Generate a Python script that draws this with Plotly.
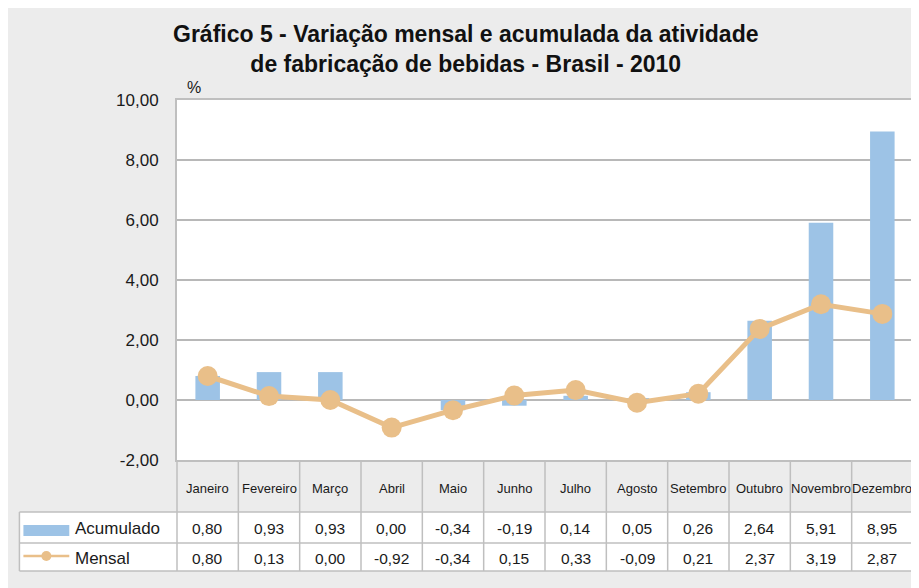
import plotly.graph_objects as go

months = ["Janeiro", "Fevereiro", "Março", "Abril", "Maio", "Junho", "Julho",
          "Agosto", "Setembro", "Outubro", "Novembro", "Dezembro"]
acumulado = [0.80, 0.93, 0.93, 0.00, -0.34, -0.19, 0.14, 0.05, 0.26, 2.64, 5.91, 8.95]
mensal = [0.80, 0.13, 0.00, -0.92, -0.34, 0.15, 0.33, -0.09, 0.21, 2.37, 3.19, 2.87]
y_ticks = [-2, 0, 2, 4, 6, 8, 10]

OFF = 8  # page body margin offset in the browser
W, H = 919 - OFF, 588 - OFF
# plot area in screen pixels: x 177..915, y 100..460
ML, MR, MT, MB = 177 - OFF, 919 - 915, 100 - OFF, 588 - 460
PW, PH = W - ML - MR, H - MT - MB

BAR_C = "#9DC3E6"
LINE_C = "#E9BF89"
BG = "#ECECEC"
BORDER = "#BFBFBF"
TXT = "#1a1a1a"
FONT = "Liberation Sans, Arial, sans-serif"
TFONT = "Liberation Sans, Arial, sans-serif"


def px_x(px):  # screen px -> paper x
    return (px - OFF - ML) / PW


def px_y(py):  # screen px -> paper y
    return (H - MB - (py - OFF)) / PH


def fmt(v):
    return f"{v:.2f}".replace(".", ",")


fig = go.Figure()
fig.add_trace(go.Bar(x=months, y=acumulado, name="Acumulado",
                     marker=dict(color=BAR_C, line=dict(width=0))))
fig.add_trace(go.Scatter(x=months, y=mensal, name="Mensal", mode="lines+markers",
                         line=dict(color=LINE_C, width=5),
                         marker=dict(color=LINE_C, size=20)))

shapes = []
# table geometry (screen pixels)
hdr_top, hdr_bot, r1_bot, r2_bot = 460, 512, 543, 571
leg_left = 19
shapes.append(dict(type="rect", xref="paper", yref="paper", layer="below",
                   x0=px_x(leg_left), x1=1, y0=px_y(hdr_bot), y1=px_y(r2_bot),
                   fillcolor="white", line=dict(width=0)))
line_style = dict(color=BORDER, width=1.5)
for py in (hdr_bot, r1_bot, r2_bot):
    shapes.append(dict(type="line", xref="paper", yref="paper", x0=px_x(leg_left), x1=1,
                       y0=px_y(py), y1=px_y(py), line=line_style))
n = len(months)
for i in range(n + 1):
    shapes.append(dict(type="line", xref="paper", yref="paper", x0=i / n, x1=i / n,
                       y0=0, y1=px_y(r2_bot), line=line_style))
shapes.append(dict(type="line", xref="paper", yref="paper", x0=px_x(leg_left), x1=px_x(leg_left),
                   y0=px_y(hdr_bot), y1=px_y(r2_bot), line=line_style))
# legend swatches
shapes.append(dict(type="rect", xref="paper", yref="paper",
                   x0=px_x(23), x1=px_x(69), y0=px_y(525), y1=px_y(536),
                   fillcolor=BAR_C, line=dict(width=0)))
shapes.append(dict(type="line", xref="paper", yref="paper",
                   x0=px_x(23), x1=px_x(69), y0=px_y(556), y1=px_y(556),
                   line=dict(color=LINE_C, width=2.5)))
shapes.append(dict(type="circle", xref="paper", yref="paper",
                   x0=px_x(41), x1=px_x(51), y0=px_y(551), y1=px_y(561),
                   fillcolor=LINE_C, line=dict(width=0)))

annotations = []
hdr_c = px_y((hdr_top + hdr_bot) / 2 + 2)
r1_c = px_y((hdr_bot + r1_bot) / 2 + 1)
r2_c = px_y((r1_bot + r2_bot) / 2 + 1)
for m, a, s in zip(months, acumulado, mensal):
    annotations.append(dict(x=m, xref="x", y=hdr_c, yref="paper", text=m, showarrow=False,
                            yanchor="middle", font=dict(size=13, color=TXT, family=FONT)))
    annotations.append(dict(x=m, xref="x", y=r1_c, yref="paper", text=fmt(a), showarrow=False,
                            yanchor="middle", font=dict(size=15.5, color=TXT, family=FONT)))
    annotations.append(dict(x=m, xref="x", y=r2_c, yref="paper", text=fmt(s), showarrow=False,
                            yanchor="middle", font=dict(size=15.5, color=TXT, family=FONT)))
annotations.append(dict(x=px_x(73), xref="paper", y=r1_c, yref="paper", text="Acumulado",
                        showarrow=False, xanchor="left", yanchor="middle",
                        font=dict(size=17, color=TXT, family=FONT)))
annotations.append(dict(x=px_x(73), xref="paper", y=r2_c, yref="paper", text="Mensal",
                        showarrow=False, xanchor="left", yanchor="middle",
                        font=dict(size=17, color=TXT, family=FONT)))
annotations.append(dict(x=px_x(185), xref="paper", y=px_y(88), yref="paper", text="%",
                        showarrow=False, xanchor="left", yanchor="middle",
                        font=dict(size=16, color=TXT, family=FONT)))
# title (two lines, single text block)
title_text = ("<b>Gráfico 5 - Variação mensal e acumulada da atividade<br>"
              "de fabricação de bebidas - Brasil - 2010</b>")
annotations.append(dict(x=px_x(466), xref="paper", y=px_y(48.5), yref="paper",
                        text=title_text, showarrow=False, xanchor="center",
                        yanchor="middle", align="center",
                        font=dict(size=23, color="#111111", family=TFONT)))

fig.update_layout(
    width=W, height=H,
    margin=dict(l=ML, r=MR, t=MT, b=MB),
    paper_bgcolor=BG,
    plot_bgcolor="white",
    showlegend=False,
    bargap=0.6,
    xaxis=dict(type="category", range=[-0.5, 11.5], showticklabels=False, showgrid=False,
               showline=True, linecolor=BORDER, linewidth=2, mirror=True, ticks=""),
    yaxis=dict(range=[-2, 10], tickvals=y_ticks, ticktext=[fmt(v) for v in y_ticks],
               showgrid=True, gridcolor="#B8B8B8", gridwidth=1.5,
               zeroline=True, zerolinecolor="#B8B8B8", zerolinewidth=1.5,
               showline=True, linecolor=BORDER, linewidth=2, mirror=True,
               ticks="", ticklabelstandoff=13,
               tickfont=dict(size=17, color=TXT, family=FONT)),
    shapes=shapes,
    annotations=annotations,
)

fig.write_html("out.html")
